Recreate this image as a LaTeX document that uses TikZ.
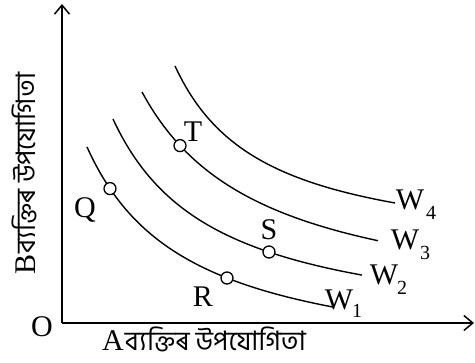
\documentclass[tikz,border=0pt]{standalone}
\usepackage{fontspec}
\setmainfont{Liberation Serif}
\newfontfamily\bnfont[Script=Bengali]{Hind Siliguri}
\usetikzlibrary{arrows.meta}
\begin{document}
\begin{tikzpicture}[x=1pt,y=-1pt,
  lbl/.style={font=\fontsize{30}{30}\selectfont, inner sep=0, anchor=base},
  subl/.style={font=\fontsize{20}{20}\selectfont, inner sep=0, anchor=base},
  curve/.style={line width=1.4pt, samples=80},
  pt/.style={circle, draw, fill=white, line width=1.3pt, minimum size=12pt, inner sep=0},
  axis/.style={line width=1.5pt, -{Straight Barb[length=9pt,width=15pt,line width=1.5pt]}}]
\useasboundingbox (0,0) rectangle (475,363);
% axes
\coordinate (O) at (62,323);
\coordinate (Ytop) at (62,4);
\coordinate (Xend) at (474,323);
\draw[axis] (O) -- (Ytop);
\draw[axis] (O) -- (Xend);
% indifference curves (hyperbolas)
\draw[curve] plot[domain=87:333] (\x, {373.4 - 230.96/((\x+15)/100)});
\draw[curve] plot[domain=113:362] (\x, {339 - 224.36/((\x-11)/100)});
\draw[curve] plot[domain=142:378] (\x, {317.6 - 275.26/((\x-20)/100)});
\draw[curve] plot[domain=175:395] (\x, {258.4 - 171.25/((\x-86)/100)});
% points
\node[pt] (Q) at (110,188.6) {};
\node[pt] (R) at (227,278) {};
\node[pt] (S) at (269,252) {};
\node[pt] (T) at (180,145.6) {};
% labels
\node[lbl] (lO) at (42,337) {O};
\node[lbl] (lQ) at (85,218) {Q};
\node[lbl] (lR) at (203,307) {R};
\node[lbl] (lS) at (269,240) {S};
\node[lbl] (lT) at (193,142) {T};
\node[lbl] (w4) at (410,210) {W};
\node[subl] (s4) at (431,220) {4};
\node[lbl] (w3) at (405,250) {W};
\node[subl] (s3) at (425,260) {3};
\node[lbl] (w2) at (384,285) {W};
\node[subl] (s2) at (402,295) {2};
\node[lbl] (w1) at (339,310) {W};
\node[subl] (s1) at (357,318) {1};
% axis titles
\node[inner sep=0, anchor=base west, font=\fontsize{30}{30}\selectfont] (xl) at (102,351)
  {A\kern1pt{\bnfont\fontsize{26.8}{26.8}\selectfont ব্যক্তিৰ উপযোগিতা}};
\node[inner sep=0, anchor=base west, rotate=90, font=\fontsize{30}{30}\selectfont] (yl) at (35,275)
  {B\kern1pt{\bnfont\fontsize{26.8}{26.8}\selectfont ব্যক্তিৰ উপযোগিতা}};
\end{tikzpicture}
\end{document}
